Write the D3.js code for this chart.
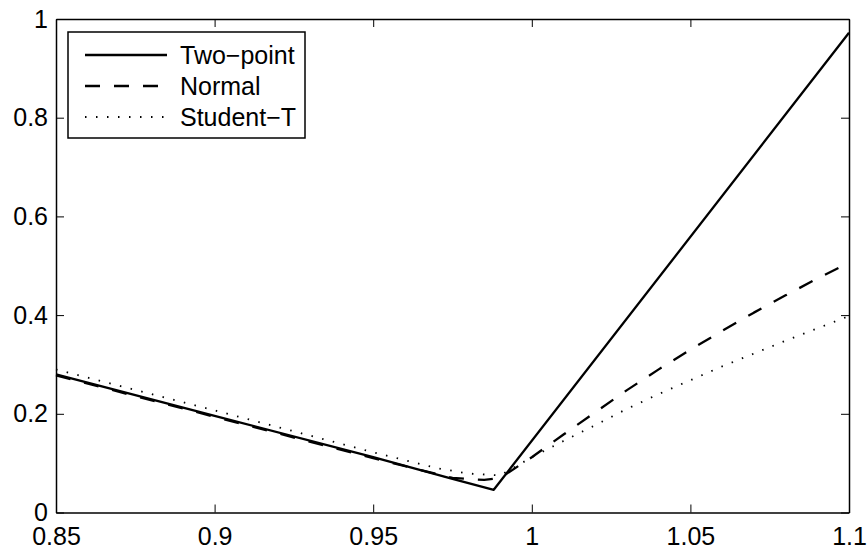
<!DOCTYPE html>
<html>
<head>
<meta charset="utf-8">
<script src="https://cdn.jsdelivr.net/npm/d3@7"></script>
<style>
  body { margin: 0; background: #fff; }
  svg { display: block; }
</style>
</head>
<body>
<div id="chart"></div>
<script>
// values
const xTicks = [0.85, 0.9, 0.95, 1, 1.05, 1.1];
const xTickLabels = ["0.85", "0.9", "0.95", "1", "1.05", "1.1"];
const yTicks = [0, 0.2, 0.4, 0.6, 0.8, 1];
const yTickLabels = ["0", "0.2", "0.4", "0.6", "0.8", "1"];

const twoPointX = [0.85, 0.9, 0.95, 0.975, 0.988, 1.1];
const twoPointY = [0.28, 0.196, 0.112, 0.068, 0.046, 0.972];

const normalX = [0.85, 0.9, 0.95, 0.975, 0.985, 0.99, 1.0, 1.01, 1.02, 1.03, 1.04, 1.05, 1.06, 1.07, 1.08, 1.09, 1.1];
const normalY = [0.278, 0.194, 0.11, 0.07, 0.066, 0.07, 0.112, 0.158, 0.203, 0.248, 0.29, 0.33, 0.368, 0.405, 0.44, 0.474, 0.506];

const studentX = [0.85, 0.9, 0.95, 0.97, 0.98, 0.99, 1.0, 1.01, 1.02, 1.03, 1.04, 1.05, 1.06, 1.07, 1.08, 1.09, 1.1];
const studentY = [0.29, 0.207, 0.122, 0.09, 0.079, 0.075, 0.112, 0.145, 0.177, 0.21, 0.24, 0.268, 0.296, 0.322, 0.348, 0.373, 0.398];

const seriesNames = ["Two\u2212point", "Normal", "Student\u2212T"];

const width = 867;
const height = 551;
const marginLeft = 56;
const marginRight = 18;
const marginTop = 19;
const marginBottom = 38.5;
const font = "'Liberation Sans', Arial, Helvetica, sans-serif";
const fontSize = "25px";

const styles = [
  { dash: null, width: 2.3 },
  { dash: "15,14", width: 2.3 },
  { dash: "1.5,9.5", width: 1.8 }
];

const x = d3.scaleLinear()
  .domain([0.85, 1.1])
  .range([marginLeft, width - marginRight]);

const y = d3.scaleLinear()
  .domain([0, 1])
  .range([height - marginBottom, marginTop]);

const svg = d3.select("#chart")
  .append("svg")
  .attr("width", width)
  .attr("height", height);

svg.append("rect")
  .attr("width", width)
  .attr("height", height)
  .attr("fill", "#fff");

const line = d3.line()
  .x(d => x(d[0]))
  .y(d => y(d[1]));

const series = [
  d3.zip(twoPointX, twoPointY),
  d3.zip(normalX, normalY),
  d3.zip(studentX, studentY)
];

series.forEach((s, i) => {
  svg.append("path")
    .datum(s)
    .attr("fill", "none")
    .attr("stroke", "#000")
    .attr("stroke-width", styles[i].width)
    .attr("stroke-dasharray", styles[i].dash)
    .attr("stroke-linejoin", "round")
    .attr("d", line);
});

// axes, ticks pointing inwards on all four sides
function styleAxis(g) {
  g.selectAll("path.domain").attr("stroke", "#000").attr("stroke-width", 1.5);
  g.selectAll(".tick line").attr("stroke", "#000").attr("stroke-width", 1);
  g.selectAll(".tick text")
    .attr("fill", "#000")
    .style("font-family", font)
    .style("font-size", fontSize);
}

svg.append("g")
  .attr("transform", `translate(0,${y(0)})`)
  .call(d3.axisBottom(x).tickValues(xTicks)
    .tickFormat((d, i) => xTickLabels[i])
    .tickSize(-8).tickSizeOuter(0).tickPadding(15))
  .call(styleAxis);

svg.append("g")
  .attr("transform", `translate(0,${y(1)})`)
  .call(d3.axisTop(x).tickValues(xTicks).tickFormat("")
    .tickSize(-8).tickSizeOuter(0))
  .call(styleAxis);

svg.append("g")
  .attr("transform", `translate(${x(0.85)},0)`)
  .call(d3.axisLeft(y).tickValues(yTicks)
    .tickFormat((d, i) => yTickLabels[i])
    .tickSize(-8).tickSizeOuter(0).tickPadding(8))
  .call(styleAxis);

svg.append("g")
  .attr("transform", `translate(${x(1.1)},0)`)
  .call(d3.axisRight(y).tickValues(yTicks).tickFormat("")
    .tickSize(-8).tickSizeOuter(0))
  .call(styleAxis);

// legend
const legend = svg.append("g").attr("transform", "translate(68,32)");

legend.append("rect")
  .attr("width", 237)
  .attr("height", 106)
  .attr("fill", "#fff")
  .attr("stroke", "#000")
  .attr("stroke-width", 1.5);

seriesNames.forEach((name, i) => {
  const row = 23 + i * 31;
  legend.append("line")
    .attr("x1", 17)
    .attr("x2", 99)
    .attr("y1", row)
    .attr("y2", row)
    .attr("stroke", "#000")
    .attr("stroke-width", styles[i].width)
    .attr("stroke-dasharray", styles[i].dash);
  legend.append("text")
    .attr("x", 112)
    .attr("y", row + 8.5)
    .attr("fill", "#000")
    .style("font-family", font)
    .style("font-size", fontSize)
    .text(name);
});
</script>
</body>
</html>
